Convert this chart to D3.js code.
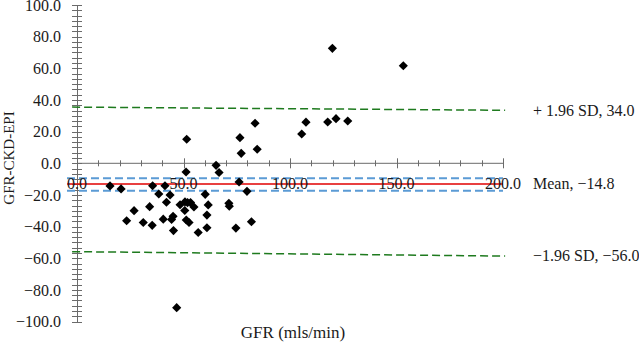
<!DOCTYPE html>
<html>
<head>
<meta charset="utf-8">
<script src="https://cdn.jsdelivr.net/npm/d3@7"></script>
<style>
body { margin: 0; background: #fff; }
text { font-family: "Liberation Serif", "Times New Roman", serif; font-size: 16px; fill: #1a1a1a; }
</style>
</head>
<body>
<svg></svg>
<script>
var WIDTH = 639;
var HEIGHT = 344;

// GFR (x) and GFR - CKD-EPI difference (y)
var gfr = [15.5, 20.7, 23.3, 26.8, 31.1, 34.1, 35.3, 35.5, 38.4, 40.5,
	41.3, 42.0, 43.7, 44.4, 45.1, 45.3, 46.8, 48.4, 50.6, 50.7,
	51.2, 51.3, 51.9, 52.6, 53.3, 54.9, 56.9, 60.2, 61.0, 61.6,
	61.0, 65.3, 66.7, 71.3, 71.5, 74.6, 76.1, 79.8, 81.9, 51.5,
	76.5, 77.1, 83.6, 84.6, 105.5, 107.5, 117.7, 121.6, 127.1, 119.9,
	153.2];
var diff = [-14.3, -16.2, -36.3, -29.9, -37.4, -27.4, -39.2, -14.2, -19.4, -35.3,
	-14.2, -24.6, -20.0, -35.5, -33.5, -42.5, -91.2, -26.2, -29.8, -24.4,
	-5.5, -35.8, -24.8, -37.4, -24.8, -27.6, -43.7, -19.6, -32.7, -26.3,
	-40.7, -1.3, -5.8, -25.3, -27.1, -40.9, -11.8, -17.7, -36.9, 15.2,
	16.2, 6.3, 25.3, 8.9, 18.5, 26.0, 26.1, 28.2, 26.7, 72.6,
	61.6];

var xTickValues = [0, 50, 100, 150, 200];
var yTickValues = [100, 80, 60, 40, 20, 0, -20, -40, -60, -80, -100];

// limit lines: [x, y] ends in data units
var upperSD = [[-2.3, 35.5], [201, 33.5]];
var lowerSD = [[-2.3, -55.8], [201, -58.6]];
var meanLine = [[-4.7, -13.1], [200, -13.1]];
var ciUpper = [[-4.7, -9.5], [200, -9.5]];
var ciLower = [[-4.7, -17.3], [200, -17.3]];
var limitLabels = ['+ 1.96 SD, 34.0', 'Mean, \u221214.8', '\u22121.96 SD, \u221256.0'];

var svg = d3.select('svg')
	.attr('width', WIDTH)
	.attr('height', HEIGHT);

var x = d3.scaleLinear().domain([0, 200]).range([77, 503]);
var y = d3.scaleLinear().domain([-100, 100]).range([321.6, 5]);

var line = d3.line()
	.x(function(d){ return x(d[0]); })
	.y(function(d){ return y(d[1]); });

var AXIS = '#6b6b6b';

// y axis with minor ticks
var leftAxis = d3.axisLeft(y)
	.tickValues(yTickValues)
	.tickSize(0)
	.tickPadding(16)
	.tickFormat(d3.format('.1f'));
var yAxis = svg.append('g')
	.attr('transform', 'translate(' + x(0) + ',0)')
	.call(leftAxis);
yAxis.select('.domain').attr('stroke', AXIS);
yAxis.selectAll('text').style('font-size', '16px').style('font-family', null);

var yMinor = d3.range(0, 61).map(function(i){ return -100 + i * 10 / 3; });
svg.append('g').selectAll('line')
	.data(yMinor)
	.enter().append('line')
	.attr('x1', x(0) - 5)
	.attr('x2', x(0) + 5)
	.attr('y1', function(d){ return Math.round(y(d)) + 0.5; })
	.attr('y2', function(d){ return Math.round(y(d)) + 0.5; })
	.attr('stroke', AXIS);

// x axis (crossing at 0) with minor ticks
var xAxisG = svg.append('g')
	.attr('transform', 'translate(0,' + y(0) + ')');
xAxisG.append('line')
	.attr('x1', x(0)).attr('x2', x(200))
	.attr('stroke', AXIS);
xAxisG.selectAll('line.tick')
	.data(d3.range(1, 21).map(function(i){ return i * 10; }))
	.enter().append('line')
	.attr('class', 'tick')
	.attr('x1', function(d){ return Math.round(x(d)) + 0.5; })
	.attr('x2', function(d){ return Math.round(x(d)) + 0.5; })
	.attr('y1', function(d){ return d % 50 === 0 ? -5 : -3; })
	.attr('y2', function(d){ return d % 50 === 0 ? 5 : 3; })
	.attr('stroke', AXIS);

// limit lines
svg.append('path').datum(upperSD).attr('d', line)
	.attr('fill', 'none').attr('stroke', '#1e7a1e').attr('stroke-width', 1.5).attr('stroke-dasharray', '8,4');
svg.append('path').datum(lowerSD).attr('d', line)
	.attr('fill', 'none').attr('stroke', '#1e7a1e').attr('stroke-width', 1.5).attr('stroke-dasharray', '8,4');
svg.append('path').datum(ciUpper).attr('d', line)
	.attr('fill', 'none').attr('stroke', '#5b9bd5').attr('stroke-width', 2).attr('stroke-dasharray', '8,4');
svg.append('path').datum(ciLower).attr('d', line)
	.attr('fill', 'none').attr('stroke', '#5b9bd5').attr('stroke-width', 2).attr('stroke-dasharray', '8,4');
svg.append('path').datum(meanLine).attr('d', line)
	.attr('fill', 'none').attr('stroke', '#e00000').attr('stroke-width', 1.5);

// x tick labels sit on the mean line
svg.append('g').selectAll('text')
	.data(xTickValues)
	.enter().append('text')
	.attr('x', function(d){ return x(d); })
	.attr('y', 189)
	.attr('text-anchor', 'middle')
	.text(d3.format('.1f'));

// labels at the right end of the limit lines
var labelY = [upperSD[1][1], meanLine[1][1], lowerSD[1][1]];
svg.append('g').selectAll('text')
	.data(limitLabels)
	.enter().append('text')
	.attr('x', 533)
	.attr('y', function(d, i){ return y(labelY[i]); })
	.attr('dy', '0.33em')
	.text(function(d){ return d; });

// points
svg.append('g').selectAll('path')
	.data(gfr)
	.enter().append('path')
	.attr('d', d3.symbol(d3.symbolSquare, 42))
	.attr('transform', function(d, i){
		return 'translate(' + x(d) + ',' + y(diff[i]) + ') rotate(45)';
	})
	.attr('fill', '#000');

// axis titles
svg.append('text')
	.attr('transform', 'translate(14,158) rotate(-90)')
	.attr('text-anchor', 'middle')
	.style('font-size', '15px')
	.text('GFR-CKD-EPI');
svg.append('text')
	.attr('x', 293)
	.attr('y', 338)
	.attr('text-anchor', 'middle')
	.style('font-size', '17px')
	.text('GFR (mls/min)');
</script>
</body>
</html>
